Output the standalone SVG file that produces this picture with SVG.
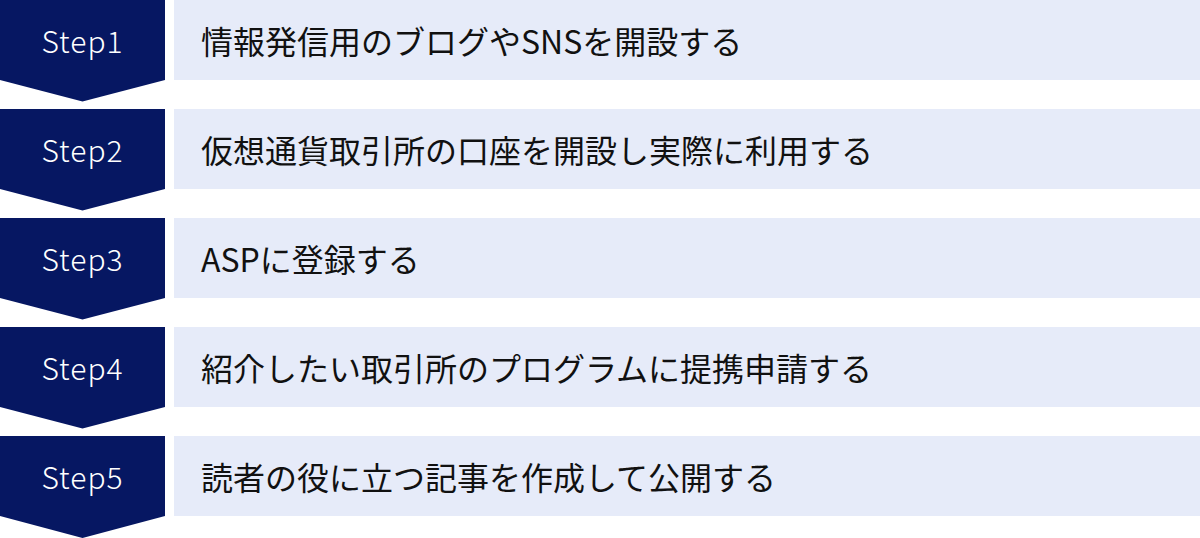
<svg xmlns="http://www.w3.org/2000/svg" width="1200" height="538" viewBox="0 0 1200 538">
<style>
.chev{fill:#061762}
.box{fill:#e6ebf9}
.step{font-family:"Noto Sans CJK JP","Noto Sans",sans-serif;font-size:30px;font-weight:300;fill:#ffffff;text-anchor:middle;letter-spacing:1px}
.lbl{font-family:"Noto Sans CJK JP","Noto Sans",sans-serif;font-size:32px;font-weight:400;fill:#111111}
</style>
<rect width="1200" height="538" fill="#ffffff"/>
<g id="step1" transform="translate(0,0)">
<polygon class="chev" points="0,0 165,0 165,80 82.5,101.5 0,80"/>
<rect class="box" x="174" y="0" width="1026" height="80"/>
<text class="step" x="82.5" y="52.5">Step1</text>
<text class="lbl" x="201" y="54">情報発信用のブログやSNSを開設する</text>
</g>
<g id="step2" transform="translate(0,109)">
<polygon class="chev" points="0,0 165,0 165,80 82.5,101.5 0,80"/>
<rect class="box" x="174" y="0" width="1026" height="80"/>
<text class="step" x="82.5" y="52.5">Step2</text>
<text class="lbl" x="201" y="54">仮想通貨取引所の口座を開設し実際に利用する</text>
</g>
<g id="step3" transform="translate(0,218)">
<polygon class="chev" points="0,0 165,0 165,80 82.5,101.5 0,80"/>
<rect class="box" x="174" y="0" width="1026" height="80"/>
<text class="step" x="82.5" y="52.5">Step3</text>
<text class="lbl" x="201" y="54">ASPに登録する</text>
</g>
<g id="step4" transform="translate(0,327)">
<polygon class="chev" points="0,0 165,0 165,80 82.5,101.5 0,80"/>
<rect class="box" x="174" y="0" width="1026" height="80"/>
<text class="step" x="82.5" y="52.5">Step4</text>
<text class="lbl" x="201" y="54">紹介したい取引所のプログラムに提携申請する</text>
</g>
<g id="step5" transform="translate(0,436)">
<polygon class="chev" points="0,0 165,0 165,80 82.5,102 0,80"/>
<rect class="box" x="174" y="0" width="1026" height="80"/>
<text class="step" x="82.5" y="52.5">Step5</text>
<text class="lbl" x="201" y="54">読者の役に立つ記事を作成して公開する</text>
</g>
<g id="connectors"></g>
</svg>
